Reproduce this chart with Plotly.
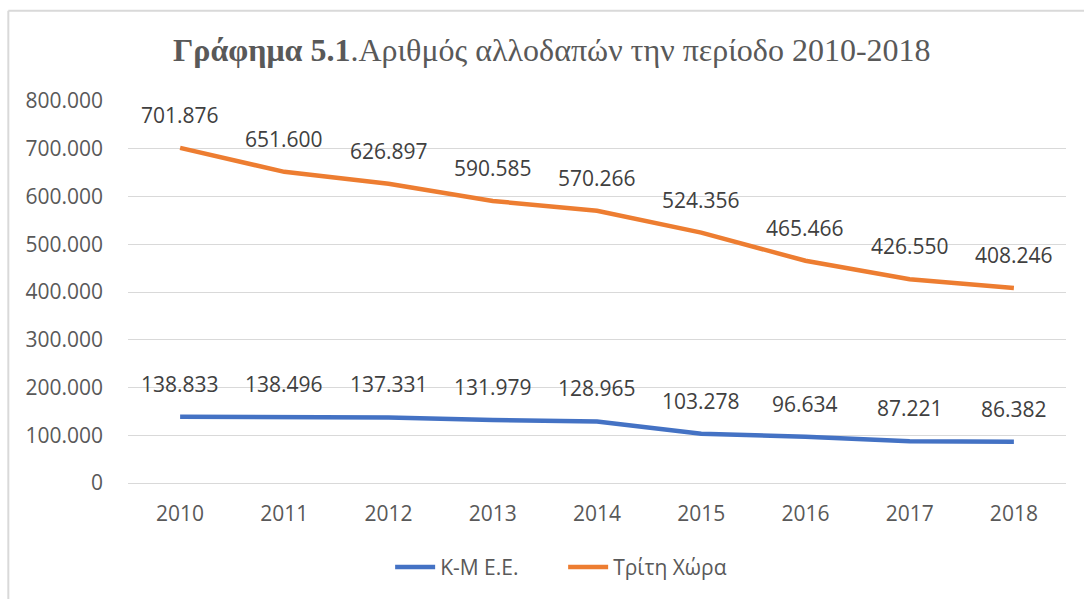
import plotly.graph_objects as go

years = [2010, 2011, 2012, 2013, 2014, 2015, 2016, 2017, 2018]
eu_values = [138833, 138496, 137331, 131979, 128965, 103278, 96634, 87221, 86382]
third_values = [701876, 651600, 626897, 590585, 570266, 524356, 465466, 426550, 408246]
series_names = ["Κ-Μ Ε.Ε.", "Τρίτη Χώρα"]
y_ticks = [0, 100000, 200000, 300000, 400000, 500000, 600000, 700000, 800000]

BLUE = "#4472C4"
ORANGE = "#ED7D31"
GRAY = "#595959"
FONT = "Open Sans"

fig = go.Figure()
fig.add_trace(go.Scatter(x=years, y=eu_values, mode="lines", name=series_names[0],
                         line=dict(color=BLUE, width=4.5)))
fig.add_trace(go.Scatter(x=years, y=third_values, mode="lines", name=series_names[1],
                         line=dict(color=ORANGE, width=4.5)))

def fmt(v):
    return f"{v:,}".replace(",", ".")

for vals in (eu_values, third_values):
    for x, v in zip(years, vals):
        fig.add_annotation(x=x, y=v, text=fmt(v), showarrow=False, yshift=33,
                           font=dict(family=FONT, size=21, color="#404040"))

# chart border (top and left edges)
fig.add_shape(type="line", xref="paper", yref="paper", x0=-0.1276, x1=1.02, y0=1.236, y1=1.236,
              line=dict(color="#d9d9d9", width=2))
fig.add_shape(type="line", xref="paper", yref="paper", x0=-0.1276, x1=-0.1276, y0=1.236, y1=-0.31,
              line=dict(color="#d9d9d9", width=2))

fig.update_layout(
    width=1084, height=599,
    paper_bgcolor="white", plot_bgcolor="white",
    margin=dict(l=128, r=18, t=101, b=116, autoexpand=False),
    separators=",.",
    title=dict(text="<b>Γράφημα 5.1</b>.Αριθμός αλλοδαπών την περίοδο 2010-2018",
               x=0.509, xref="container", xanchor="center",
               y=0.917, yref="container", yanchor="middle",
               font=dict(family="Liberation Serif", size=32, color=GRAY)),
    showlegend=True,
    legend=dict(orientation="h", x=0.5195, xanchor="center", xref="container",
                y=0.053, yanchor="middle", yref="container",
                font=dict(family=FONT, size=21, color=GRAY), itemwidth=40,
                entrywidth=118),
    xaxis=dict(range=[2009.5, 2018.5], tickvals=years, tickformat="d",
               showgrid=False, showline=False, zeroline=False,
               tickfont=dict(family=FONT, size=21, color=GRAY), ticks="",
               ticklabelstandoff=16),
    yaxis=dict(range=[0, 800000], tickvals=y_ticks, tickformat=",d",
               showgrid=True, gridcolor="#d9d9d9", gridwidth=1.3,
               zeroline=True, zerolinecolor="#d9d9d9", zerolinewidth=1.3,
               showline=False, ticks="",
               tickfont=dict(family=FONT, size=21, color=GRAY),
               ticklabelstandoff=24),
)

fig.write_html("out.html", config={"displayModeBar": False},
               post_script="document.body.style.margin='0';")
